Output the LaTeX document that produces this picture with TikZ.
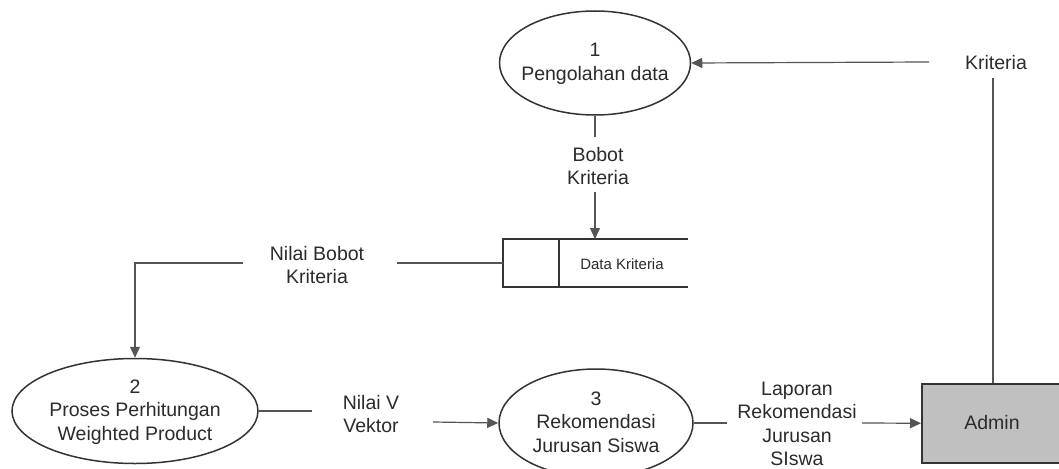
\documentclass[tikz,border=0pt]{standalone}
\usepackage{fontspec}
\setmainfont{Liberation Sans}
\usetikzlibrary{shapes.geometric,arrows.meta}
\definecolor{ink}{HTML}{333333}
\definecolor{txt}{HTML}{2B2B2B}
\definecolor{wire}{HTML}{555555}
\definecolor{entfill}{HTML}{C0C0C0}
\begin{document}
\begin{tikzpicture}[x=1pt,y=-1pt,
  proc/.style={ellipse,draw=ink,line width=1.5pt,inner sep=0pt},
  lbl/.style={align=center,font=\fontsize{19.5}{23.5}\selectfont,text=txt,inner sep=0pt},
  small/.style={align=center,font=\fontsize{15}{18}\selectfont,text=txt,inner sep=0pt},
  flow/.style={draw=wire,line width=1.2pt},
  arr/.style={flow,-{Triangle[length=11pt,width=10pt]}},
  storeline/.style={draw=ink,line width=1.5pt},
  entity/.style={rectangle,draw=ink,line width=1.5pt,fill=entfill,inner sep=0pt,anchor=north west},
]
\useasboundingbox (0,0) rectangle (1059,468);
\fill[white] (0,0) rectangle (1059,468);

% processes
\node[proc,minimum width=191pt,minimum height=104pt] (p1) at (595,63) {};
\node[lbl] (p1t) at (595,64) {1\\Pengolahan data};
\node[proc,minimum width=246pt,minimum height=105pt] (p2) at (135,411) {};
\node[lbl] (p2t) at (135,412) {2\\Proses Perhitungan\\Weighted Product};
\node[proc,minimum width=194pt,minimum height=108pt] (p3) at (596,423) {};
\node[lbl] (p3t) at (596,422) {3\\Rekomendasi\\Jurusan Siswa};

% entity
\node[entity,minimum width=145pt,minimum height=79pt] (admin) at (921,383) {};
\node[lbl] (admint) at (992,423) {Admin};

% data store
\coordinate (sTL) at (503,239);
\coordinate (sBL) at (503,287);
\coordinate (sTR) at (688,239);
\coordinate (sBR) at (688,287);
\coordinate (sDT) at (559,239);
\coordinate (sDB) at (559,287);
\draw[storeline] (sTR) -- (sTL) -- (sBL) -- (sBR);
\draw[storeline] (sDT) -- (sDB);
\node[small] (storet) at (622,264) {Data Kriteria};
\coordinate (sL) at (503,263);
\coordinate (sTop) at (595,239);

% flow labels
\node[lbl] (fKr) at (996,63) {Kriteria};
\node[lbl] (fBobot) at (598,166) {Bobot\\Kriteria};
\node[lbl] (fNilaiBobot) at (317,265) {Nilai Bobot\\Kriteria};
\node[lbl] (fNilaiV) at (371,414) {Nilai V\\Vektor};
\node[lbl] (fLaporan) at (797,424) {Laporan\\Rekomendasi\\Jurusan\\SIswa};

% free ends of the flows
\coordinate (krW) at (929,62);
\coordinate (krS) at (993,78);
\coordinate (bobN) at (595,137);
\coordinate (bobS) at (595,192);
\coordinate (nbE) at (397,263);
\coordinate (nbW) at (243,263);
\coordinate (nbC) at (135,263);
\coordinate (nvW) at (312,411);
\coordinate (nvE) at (433,422);
\coordinate (lpW) at (727,423);
\coordinate (lpE) at (862,423);

% flows
\draw[flow] (admin.north -| krS) -- (krS);
\draw[arr] (krW) -- (p1.east);
\draw[flow] (p1.south) -- (bobN);
\draw[arr] (bobS) -- (sTop);
\draw[flow] (sL) -- (nbE);
\draw[arr] (nbW) -- (nbC) -- (p2.north);
\draw[flow] (p2.east) -- (nvW);
\draw[arr] (nvE) -- (p3.west);
\draw[flow] (p3.east) -- (lpW);
\draw[arr] (lpE) -- (admin.west);
\end{tikzpicture}
\end{document}
